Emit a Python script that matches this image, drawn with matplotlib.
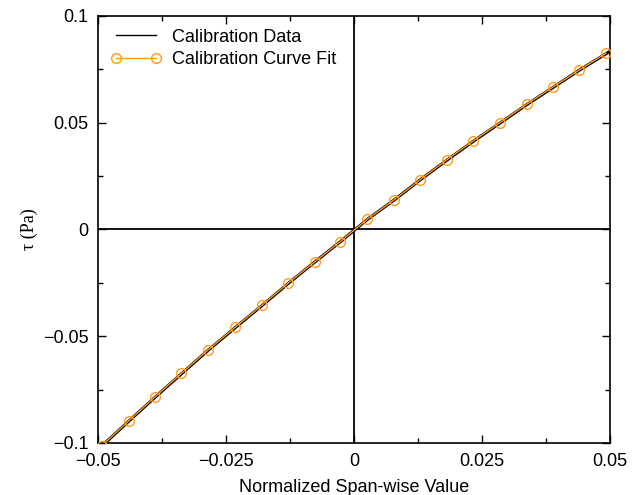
import matplotlib
matplotlib.use("Agg")
import matplotlib.pyplot as plt
from matplotlib.ticker import MultipleLocator

# Calibration curve fit points
fit_x = [-0.0492, -0.0440, -0.0389, -0.0337, -0.0285, -0.0232, -0.0180, -0.0129,
         -0.0077, -0.0027, 0.0026, 0.0078, 0.0129, 0.0181, 0.0233, 0.0285,
         0.0337, 0.0388, 0.0440, 0.0492]
fit_y = [-0.1012, -0.0896, -0.0785, -0.0674, -0.0564, -0.0458, -0.0355, -0.0252,
         -0.0152, -0.0057, 0.0048, 0.0138, 0.0233, 0.0326, 0.0415, 0.0500,
         0.0586, 0.0666, 0.0747, 0.0825]

# Calibration data (follows the same curve, drawn thicker)
data_x = [-0.0495, -0.0440, -0.0389, -0.0337, -0.0285, -0.0232, -0.0180, -0.0129,
          -0.0077, -0.0027, 0.0026, 0.0078, 0.0129, 0.0181, 0.0233, 0.0285,
          0.0337, 0.0388, 0.0440, 0.0497]
data_y = [-0.1020, -0.0898, -0.0787, -0.0676, -0.0566, -0.0460, -0.0357, -0.0254,
          -0.0153, -0.0058, 0.0047, 0.0137, 0.0232, 0.0324, 0.0413, 0.0498,
          0.0584, 0.0664, 0.0746, 0.0830]

x_ticks = [-0.05, -0.025, 0, 0.025, 0.05]
x_labels = ["\u22120.05", "\u22120.025", "0", "0.025", "0.05"]
y_ticks = [-0.1, -0.05, 0, 0.05, 0.1]
y_labels = ["\u22120.1", "\u22120.05", "0", "0.05", "0.1"]

plt.rcParams['font.family'] = ['Liberation Sans', 'DejaVu Sans']
orange = '#ff9a1a'

fig = plt.figure(figsize=(6.36, 4.95), dpi=100)
ax = fig.add_axes([0.1541, 0.1051, 0.9591 - 0.1541, 0.9677 - 0.1051])

ax.axhline(0, color='black', lw=1.3, zorder=1)
ax.axvline(0, color='black', lw=1.3, zorder=1)

ax.plot(data_x, data_y, color='black', lw=2.2, label='Calibration Data', zorder=2)
ax.plot(fit_x, fit_y, color=orange, lw=1.0, marker='o', markersize=7,
        markerfacecolor='none', markeredgecolor=orange, markeredgewidth=1.0,
        label='Calibration Curve Fit', zorder=3)

ax.set_xlim(-0.05, 0.05)
ax.set_ylim(-0.1, 0.1)
ax.set_xticks(x_ticks)
ax.set_xticklabels(x_labels)
ax.set_yticks(y_ticks)
ax.set_yticklabels(y_labels)
ax.xaxis.set_minor_locator(MultipleLocator(0.0125))
ax.yaxis.set_minor_locator(MultipleLocator(0.025))
ax.tick_params(which='both', direction='in', top=True, right=True, labelsize=13)
ax.tick_params(which='major', length=6, width=1)
ax.tick_params(which='minor', length=3.5, width=1)
ax.tick_params(axis='x', pad=7)
ax.tick_params(axis='y', pad=7)
for s in ax.spines.values():
    s.set_linewidth(1.2)

ax.set_xlabel('Normalized Span-wise Value', fontsize=13, labelpad=7)
ax.set_ylabel('\u03c4 (Pa)', fontsize=13, family=['Liberation Serif', 'DejaVu Serif'], labelpad=3)

leg = ax.legend(loc='upper left', frameon=False, fontsize=13, numpoints=2,
                handlelength=2.8, handletextpad=0.6, labelspacing=0.32,
                borderaxespad=0.3, bbox_to_anchor=(0.0, 1.0))
leg.get_lines()[0].set_linewidth(1.0)

fig.savefig('out.png', dpi=100)
